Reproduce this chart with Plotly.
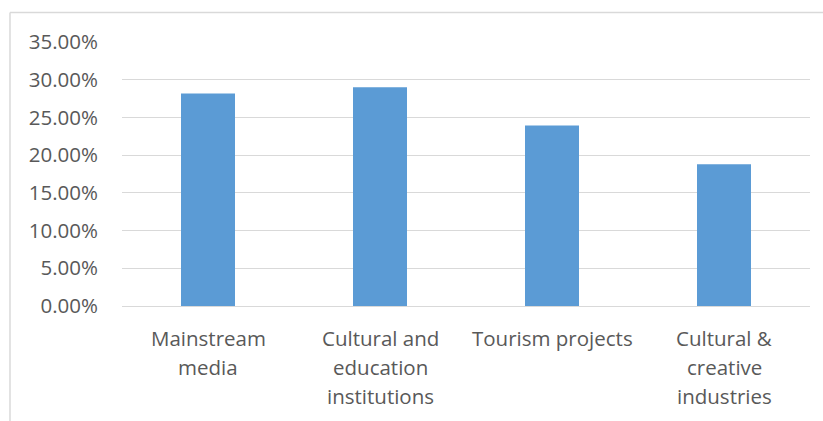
import plotly.graph_objects as go

categories = ["Mainstream media", "Cultural and education institutions",
              "Tourism projects", "Cultural & creative industries"]
label_lines = [["Mainstream", "media"],
               ["Cultural and", "education", "institutions"],
               ["Tourism projects"],
               ["Cultural &", "creative", "industries"]]
values = [0.2817, 0.2900, 0.2394, 0.1878]
tick_vals = [0, 0.05, 0.10, 0.15, 0.20, 0.25, 0.30, 0.35]
tick_text = ["0.00%", "5.00%", "10.00%", "15.00%", "20.00%", "25.00%", "30.00%", "35.00%"]

FONT = "Open Sans"
TXT = "#595959"
FS = 20.5

fig = go.Figure(go.Bar(x=categories, y=values, marker=dict(color="#5B9BD5", line=dict(width=0))))

annotations = []
for cat, lines in zip(categories, label_lines):
    for i, ln in enumerate(lines):
        annotations.append(dict(x=cat, xref="x", y=0, yref="paper", text=ln,
                                showarrow=False, yanchor="middle", xanchor="center",
                                yshift=-31.7 - 29.3 * i,
                                font=dict(family=FONT, size=FS, color=TXT)))

fig.update_layout(
    width=823, height=421,
    margin=dict(l=122, r=13, t=42, b=115),
    paper_bgcolor="white", plot_bgcolor="white",
    bargap=0.686,
    showlegend=False,
    annotations=annotations,
    xaxis=dict(showticklabels=False, showgrid=False, showline=False, zeroline=False, fixedrange=True),
    yaxis=dict(range=[0, 0.35], tickvals=tick_vals, ticktext=tick_text,
               showgrid=True, gridcolor="#D9D9D9", gridwidth=1.3,
               zeroline=True, zerolinecolor="#D9D9D9", zerolinewidth=1.3,
               showline=False, ticks="", ticklabelstandoff=23,
               tickfont=dict(family=FONT, size=FS, color=TXT)),
    shapes=[
        dict(type="line", xref="paper", yref="paper", x0=-0.1628, x1=1.1, y0=1.112, y1=1.112,
             line=dict(color="#D9D9D9", width=1.5)),
        dict(type="line", xref="paper", yref="paper", x0=-0.1628, x1=-0.1628, y0=1.112, y1=-0.5,
             line=dict(color="#D9D9D9", width=1.5)),
    ],
)

fig.write_html("out.html")
